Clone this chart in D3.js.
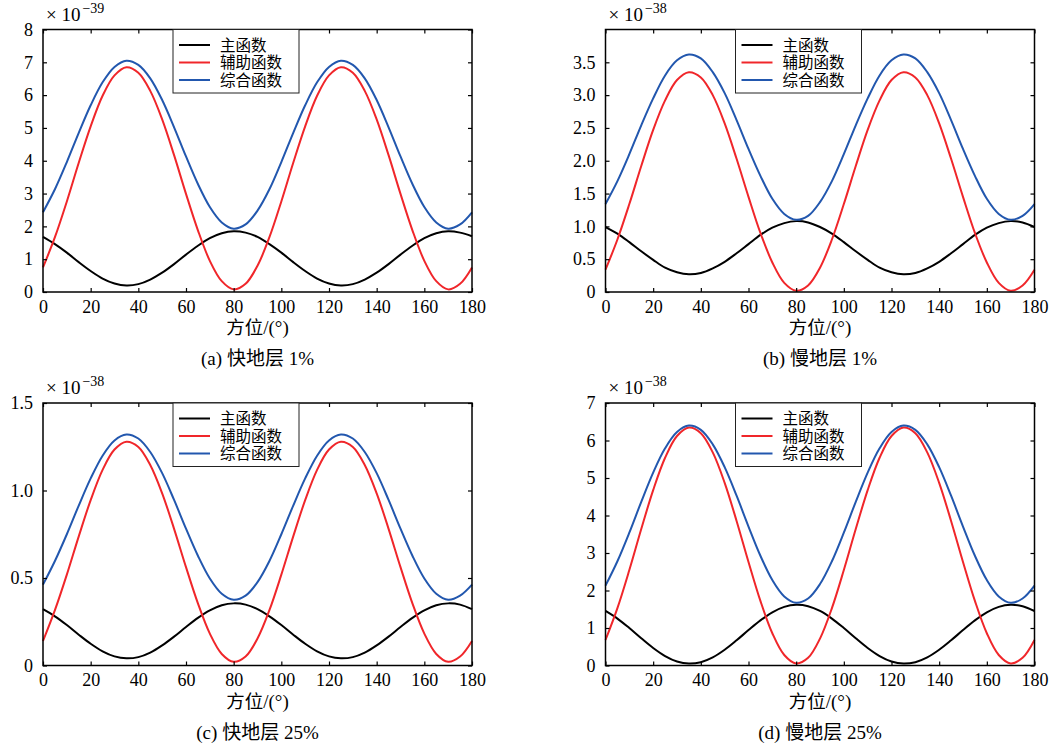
<!DOCTYPE html>
<html>
<head>
<meta charset="utf-8">
<script src="https://cdn.jsdelivr.net/npm/d3@7"></script>
<style>
  body { margin: 0; background: #fff; }
  svg { display: block; }
</style>
</head>
<body>
<svg width="1057" height="747"></svg>
<script>
// azimuth sampled every 5 degrees
let angles = d3.range(0, 181, 5);
let xTicks = [0, 20, 40, 60, 80, 100, 120, 140, 160, 180];
let seriesNames = ["主函数", "辅助函数", "综合函数"];
let colors = ["#000000", "#f0262a", "#2257ae"];

// (a) fast layer 1%, x1e-39
let mainA = [1.68,1.46,1.20,0.91,0.64,0.41,0.26,0.20,0.24,0.38,0.59,0.85,1.14,1.41,1.64,1.79,1.85,1.81,1.68,
             1.46,1.20,0.91,0.64,0.41,0.26,0.20,0.24,0.38,0.59,0.85,1.14,1.41,1.64,1.79,1.85,1.81,1.70];
let auxA  = [0.75,1.67,2.76,3.94,5.05,5.98,6.60,6.85,6.68,6.13,5.26,4.17,2.99,1.88,0.95,0.33,0.08,0.25,0.80,
             1.67,2.76,3.94,5.05,5.98,6.60,6.85,6.68,6.13,5.26,4.17,2.99,1.88,0.95,0.33,0.08,0.25,0.75];
let combA = [2.43,3.13,3.96,4.85,5.69,6.39,6.86,7.05,6.92,6.51,5.85,5.02,4.13,3.29,2.59,2.12,1.93,2.06,2.48,
             3.13,3.96,4.85,5.69,6.39,6.86,7.05,6.92,6.51,5.85,5.02,4.13,3.29,2.59,2.12,1.93,2.06,2.43];

// (b) slow layer 1%, x1e-38
let mainB = [0.99,0.89,0.76,0.62,0.49,0.37,0.30,0.27,0.29,0.36,0.46,0.59,0.73,0.87,0.98,1.05,1.08,1.06,0.99,
             0.89,0.76,0.62,0.49,0.37,0.30,0.27,0.29,0.36,0.46,0.59,0.73,0.87,0.98,1.05,1.08,1.06,0.99];
let auxB  = [0.34,0.80,1.34,1.92,2.47,2.92,3.23,3.35,3.27,3.00,2.57,2.03,1.45,0.90,0.45,0.14,0.02,0.10,0.37,
             0.80,1.34,1.92,2.47,2.92,3.23,3.35,3.27,3.00,2.57,2.03,1.45,0.90,0.45,0.14,0.02,0.10,0.34];
let combB = [1.34,1.69,2.10,2.54,2.95,3.30,3.53,3.62,3.56,3.35,3.03,2.62,2.18,1.77,1.42,1.19,1.10,1.16,1.37,
             1.69,2.10,2.54,2.95,3.30,3.53,3.62,3.56,3.35,3.03,2.62,2.18,1.77,1.42,1.19,1.10,1.16,1.34];

// (c) fast layer 25%, x1e-38
let mainC = [0.322,0.281,0.231,0.176,0.124,0.081,0.052,0.041,0.048,0.074,0.115,0.165,0.220,0.272,0.315,0.344,0.355,0.348,0.322,
             0.281,0.231,0.176,0.124,0.081,0.052,0.041,0.048,0.074,0.115,0.165,0.220,0.272,0.315,0.344,0.355,0.348,0.322];
let auxC  = [0.140,0.316,0.519,0.738,0.945,1.118,1.234,1.279,1.249,1.146,0.984,0.781,0.562,0.355,0.182,0.066,0.021,0.051,0.154,
             0.316,0.519,0.738,0.945,1.118,1.234,1.279,1.249,1.146,0.984,0.781,0.562,0.355,0.182,0.066,0.021,0.051,0.140];
let combC = [0.462,0.597,0.750,0.914,1.069,1.199,1.286,1.320,1.297,1.220,1.099,0.946,0.782,0.627,0.497,0.410,0.376,0.399,0.476,
             0.597,0.750,0.914,1.069,1.199,1.286,1.320,1.297,1.220,1.099,0.946,0.782,0.627,0.497,0.410,0.376,0.399,0.462];

// (d) slow layer 25%, x1e-38
let mainD = [1.454,1.251,0.998,0.726,0.467,0.252,0.107,0.051,0.088,0.216,0.419,0.672,0.944,1.203,1.418,1.563,1.619,1.582,1.454,
             1.251,0.998,0.726,0.467,0.252,0.107,0.051,0.088,0.216,0.419,0.672,0.944,1.203,1.418,1.563,1.619,1.582,1.454];
let auxD  = [0.680,1.530,2.545,3.638,4.677,5.540,6.120,6.347,6.196,5.682,4.870,3.855,2.762,1.723,0.860,0.280,0.053,0.204,0.718,
             1.530,2.545,3.638,4.677,5.540,6.120,6.347,6.196,5.682,4.870,3.855,2.762,1.723,0.860,0.280,0.053,0.204,0.680];
let combD = [2.130,2.781,3.543,4.364,5.144,5.792,6.227,6.398,6.284,5.898,5.289,4.527,3.706,2.926,2.278,1.843,1.672,1.786,2.172,
             2.781,3.543,4.364,5.144,5.792,6.227,6.398,6.284,5.898,5.289,4.527,3.706,2.926,2.278,1.843,1.672,1.786,2.130];

let yTicksA = [0,1,2,3,4,5,6,7,8];
let yTicksB = [0,0.5,1.0,1.5,2.0,2.5,3.0,3.5];
let yTicksC = [0,0.5,1.0,1.5];
let yTicksD = [0,1,2,3,4,5,6,7];

let panels = [
  {series: [mainA, auxA, combA], ymax: 8, ticks: yTicksA, exp: "−39", tag: "(a)", name: "快地层", pct: "1%", x: 43, y: 29.5, dec: false},
  {series: [mainB, auxB, combB], ymax: 4, ticks: yTicksB, exp: "−38", tag: "(b)", name: "慢地层", pct: "1%", x: 605.5, y: 29.5, dec: true},
  {series: [mainC, auxC, combC], ymax: 1.5, ticks: yTicksC, exp: "−38", tag: "(c)", name: "快地层", pct: "25%", x: 43, y: 403, dec: true},
  {series: [mainD, auxD, combD], ymax: 7, ticks: yTicksD, exp: "−38", tag: "(d)", name: "慢地层", pct: "25%", x: 605.5, y: 403, dec: false}
];

let svg = d3.select("svg");
svg.append("rect").attr("width", 1057).attr("height", 747).attr("fill", "#fff");

let w = 429, h = 262.5;
let serif = "Liberation Serif";
let cjk = "Noto Sans CJK SC";

panels.forEach(function(p){
  let g = svg.append("g").attr("transform", "translate(" + p.x + "," + p.y + ")");
  let x = d3.scaleLinear().domain([0, 180]).range([0, w]);
  let y = d3.scaleLinear().domain([0, p.ymax]).range([h, 0]);
  let fmt = function(d){ return d === 0 ? "0" : (p.dec ? d.toFixed(1) : d); };

  // curves
  let line = d3.line()
    .x(function(d, i){ return x(angles[i]); })
    .y(function(d){ return y(d); })
    .curve(d3.curveCatmullRom);
  p.series.forEach(function(s, i){
    g.append("path").datum(s)
      .attr("fill", "none")
      .attr("stroke", colors[i])
      .attr("stroke-width", 2)
      .attr("d", line);
  });

  // axes with inward ticks
  let bottom = g.append("g").attr("transform", "translate(0," + h + ")")
    .call(d3.axisBottom(x).tickValues(xTicks).tickSizeInner(-4).tickSizeOuter(0).tickPadding(8));
  let top = g.append("g")
    .call(d3.axisTop(x).tickValues(xTicks).tickSizeInner(-4).tickSizeOuter(0).tickFormat(""));
  let left = g.append("g")
    .call(d3.axisLeft(y).tickValues(p.ticks).tickSizeInner(-4).tickSizeOuter(0).tickPadding(10).tickFormat(fmt));
  let right = g.append("g").attr("transform", "translate(" + w + ",0)")
    .call(d3.axisRight(y).tickValues(p.ticks).tickSizeInner(-4).tickSizeOuter(0).tickFormat(""));
  [bottom, top, left, right].forEach(function(a){
    a.select(".domain").remove();
    a.selectAll("line").attr("stroke", "#000").attr("stroke-width", 1.2);
    a.selectAll("text")
      .style("font-family", serif)
      .style("font-size", "18px")
      .attr("fill", "#000");
  });
  g.append("rect").attr("width", w).attr("height", h)
    .attr("fill", "none").attr("stroke", "#000").attr("stroke-width", 1.5);

  // exponent label
  let ex = g.append("text").attr("x", 3).attr("y", -9)
    .style("font-family", serif).style("font-size", "19px").attr("fill", "#000");
  ex.append("tspan").text("× 10");
  ex.append("tspan").attr("dy", -8).attr("dx", 2).style("font-size", "14px").text(p.exp);

  // legend
  let lg = g.append("g").attr("transform", "translate(130,0)");
  lg.append("rect").attr("width", 126).attr("height", 63.5)
    .attr("fill", "#fff").attr("stroke", "#222").attr("stroke-width", 1);
  seriesNames.forEach(function(n, i){
    let ly = 15.5 + i * 17.5;
    lg.append("line").attr("x1", 6).attr("x2", 37).attr("y1", ly).attr("y2", ly)
      .attr("stroke", colors[i]).attr("stroke-width", 2);
    lg.append("text").attr("x", 47).attr("y", ly + 5.5)
      .style("font-family", cjk).style("font-size", "15.5px").attr("fill", "#000").text(n);
  });

  // axis title and caption
  let t = g.append("text").attr("x", w / 2).attr("y", h + 42)
    .attr("text-anchor", "middle").style("font-size", "18.5px").attr("fill", "#000");
  t.append("tspan").style("font-family", cjk).text("方位");
  t.append("tspan").style("font-family", serif).style("font-size", "19px").text("/(°)");

  let c = g.append("text").attr("x", w / 2).attr("y", h + 73)
    .attr("text-anchor", "middle").style("font-size", "19px").attr("fill", "#000");
  c.append("tspan").style("font-family", serif).text(p.tag + " ");
  c.append("tspan").style("font-family", cjk).text(p.name);
  c.append("tspan").style("font-family", serif).text(" " + p.pct);
});
</script>
</body>
</html>
